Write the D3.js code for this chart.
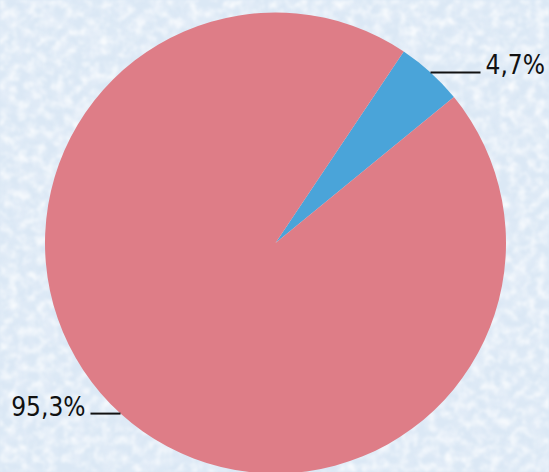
<!DOCTYPE html>
<html>
<head>
<meta charset="utf-8">
<script src="https://cdn.jsdelivr.net/npm/d3@7"></script>
<style>
  html, body { margin: 0; padding: 0; background: #dbe8f5; }
  svg { display: block; }
</style>
</head>
<body>
<svg id="chart" width="549" height="472"></svg>
<script>
// Shares of the two groups, in percent
const categories = ["Ja", "Nein"];
const values = [4.7, 95.3];
const labels = ["4,7%", "95,3%"];
const colors = ["#4aa4d9", "#de7d87"];

const width = 549, height = 472;
const cx = 275.5, cy = 243, radius = 230.5;

const svg = d3.select("#chart");

// Mottled light-blue paper backdrop: a pale base with darker and lighter speckles
const defs = svg.append("defs");

function speckle(id, freq, seed, rgb, gain, bias) {
  const f = defs.append("filter").attr("id", id)
    .attr("x", 0).attr("y", 0).attr("width", "100%").attr("height", "100%")
    .attr("filterUnits", "userSpaceOnUse");
  f.append("feTurbulence").attr("type", "fractalNoise")
    .attr("baseFrequency", freq).attr("numOctaves", 4).attr("seed", seed).attr("result", "n");
  f.append("feColorMatrix").attr("in", "n").attr("type", "matrix")
    .attr("values", `0 0 0 0 ${rgb[0]}  0 0 0 0 ${rgb[1]}  0 0 0 0 ${rgb[2]}  ${gain} 0 0 0 ${bias}`)
    .attr("result", "c");
  f.append("feGaussianBlur").attr("in", "c").attr("stdDeviation", 0.8);
}
speckle("darkSpots", 0.07, 3, [0.78, 0.85, 0.94], 2.2, -0.95);
speckle("lightSpots", 0.11, 11, [0.94, 0.965, 0.99], 2.2, -0.9);

svg.append("rect").attr("width", width).attr("height", height).attr("fill", "#dbe8f5");
svg.append("rect").attr("width", width).attr("height", height).attr("filter", "url(#darkSpots)");
svg.append("rect").attr("width", width).attr("height", height).attr("filter", "url(#lightSpots)");

const pie = d3.pie().sort(null)
  .startAngle(33.8 * Math.PI / 180)
  .endAngle(33.8 * Math.PI / 180 + 2 * Math.PI);
const arcs = pie(values);
const arc = d3.arc().innerRadius(0).outerRadius(radius);

const g = svg.append("g").attr("transform", `translate(${cx},${cy})`);

g.selectAll("path.slice")
  .data(arcs)
  .join("path")
  .attr("class", "slice")
  .attr("d", arc)
  .attr("fill", (d, i) => colors[i]);

// Leader lines and percentage labels
const leaderLen = [50, 30];
arcs.forEach((d, i) => {
  const mid = (d.startAngle + d.endAngle) / 2;
  const x0 = Math.sin(mid) * radius;
  const y0 = -Math.cos(mid) * radius;
  const dir = x0 >= 0 ? 1 : -1;
  const x1 = x0 + dir * leaderLen[i];
  g.append("line")
    .attr("x1", x0).attr("y1", y0)
    .attr("x2", x1).attr("y2", y0)
    .attr("stroke", "#111").attr("stroke-width", 2);
  g.append("text")
    .attr("x", x1 + dir * 5)
    .attr("y", y0 + 2)
    .attr("text-anchor", dir > 0 ? "start" : "end")
    .attr("font-family", "'DejaVu Sans Condensed', 'Liberation Sans', sans-serif")
    .attr("font-size", 26)
    .attr("fill", "#111")
    .text(labels[i]);
});
</script>
</body>
</html>
